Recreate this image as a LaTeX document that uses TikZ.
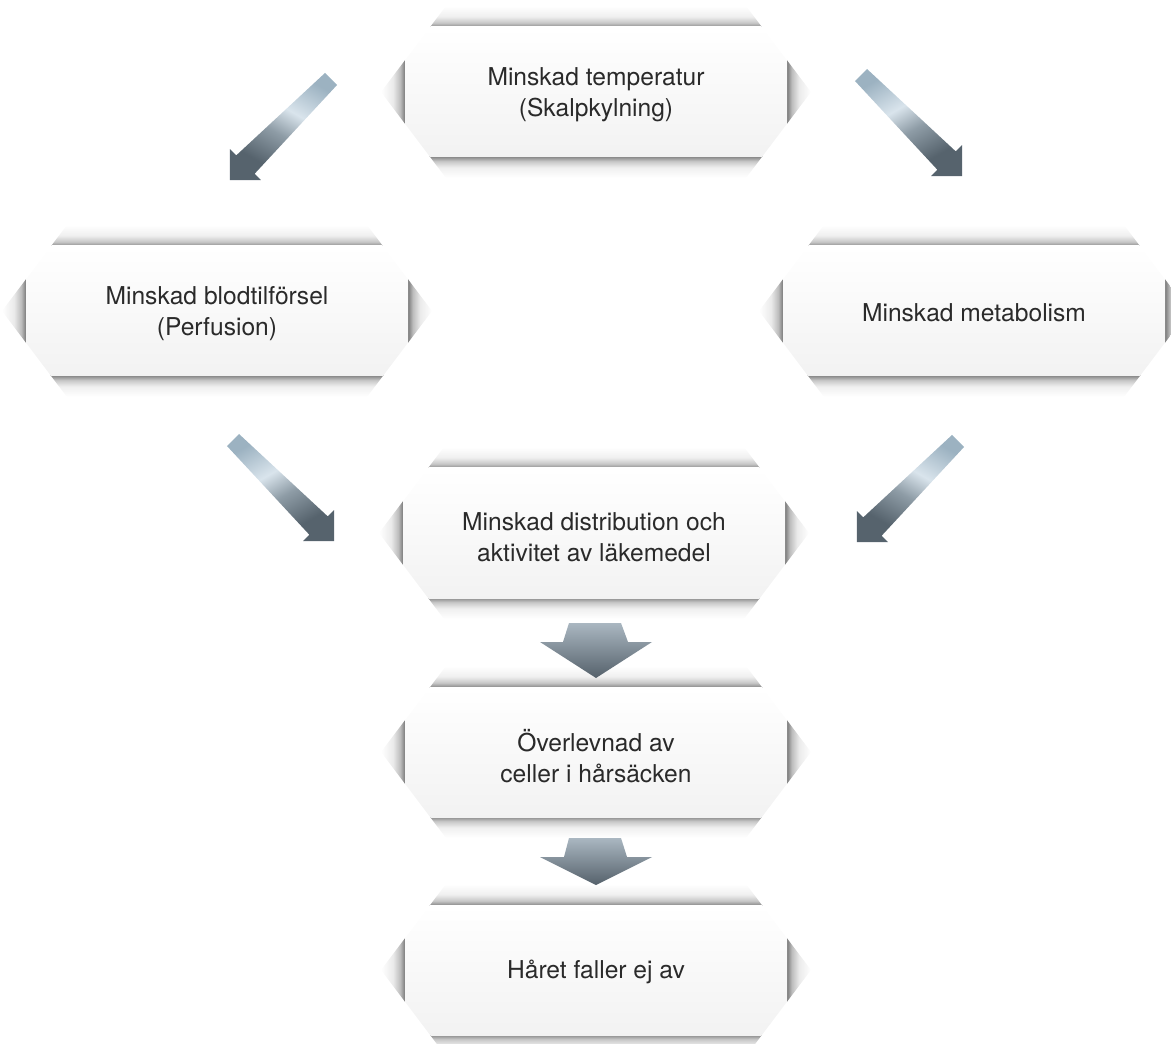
\documentclass[tikz,border=0pt]{standalone}
\usepackage{fontspec}
\setmainfont{TeX Gyre Heros}
\usepackage{tikz}

\definecolor{textgray}{HTML}{2A2A2A}
\definecolor{steeltail}{HTML}{9CB2C1}
\definecolor{steellight}{HTML}{D9E4EC}
\definecolor{steelmid}{HTML}{8E9CA6}
\definecolor{steeldark}{HTML}{56636D}
\definecolor{droptop}{HTML}{AAB7C1}
\definecolor{dropbottom}{HTML}{55616B}

\pgfdeclarehorizontalshading{steelshade}{100bp}{color(0bp)=(steeldark); color(30bp)=(steeldark); color(46bp)=(steelmid); color(58bp)=(steellight); color(75bp)=(steeltail); color(100bp)=(steeltail)}
\pgfdeclareverticalshading{bevelup}{100bp}{color(0bp)=(black!45); color(25bp)=(black!45); color(35bp)=(black!22); color(50bp)=(black!6); color(75bp)=(white); color(100bp)=(white)}
\pgfdeclareverticalshading{beveldown}{100bp}{color(0bp)=(white); color(25bp)=(white); color(50bp)=(black!6); color(65bp)=(black!22); color(75bp)=(black!45); color(100bp)=(black!45)}
\pgfdeclarehorizontalshading{bevelleft}{100bp}{color(0bp)=(white); color(25bp)=(white); color(50bp)=(black!8); color(65bp)=(black!26); color(75bp)=(black!52); color(100bp)=(black!52)}
\pgfdeclarehorizontalshading{bevelright}{100bp}{color(0bp)=(black!52); color(25bp)=(black!52); color(35bp)=(black!26); color(50bp)=(black!8); color(75bp)=(white); color(100bp)=(white)}

\tikzstyle{boxtext} = [align=center, text=textgray, font=\fontsize{14}{17.6}\selectfont]
\tikzstyle{face} = [top color=white, bottom color=black!5]
\tikzstyle{steelarrow} = [shading=steelshade]
\tikzstyle{droparrow} = [top color=droptop, bottom color=dropbottom]

% bevelled box round the origin of the current scope
\newcommand{\bevelbox}{%
  \begin{scope}
    \clip (-150,-86) -- (150,-86) -- (215,0) -- (150,86) -- (-150,86) -- (-215,0) -- cycle;
    \shade[shading=bevelup] (-215,-86) rectangle (215,-65);
    \shade[shading=beveldown] (-215,65) rectangle (215,86);
    \shade[shading=bevelleft] (-215,-65) rectangle (-191,65);
    \shade[shading=bevelright] (191,-65) rectangle (215,65);
    \shade[face] (-191,-65) rectangle (191,65);
  \end{scope}}

\newcommand{\slantarrow}[3]{%
  \shade[steelarrow, shading angle=#3, shift={#1}, rotate=#2]
    (0,-8.5) -- (121,-13) -- (121,-22) -- (143,0) -- (121,22) -- (121,13) -- (0,8.5) -- cycle;}

\begin{document}
\begin{tikzpicture}[x=0.02cm, y=-0.02cm]
\useasboundingbox (0,0) rectangle (1171,1044);

\begin{scope}[shift={(596,92)}]
\bevelbox
\node[boxtext] (temp) at (0,3) {Minskad temperatur\\(Skalpkylning)};
\end{scope}

\begin{scope}[shift={(217,311)}]
\bevelbox
\node[boxtext] (blod) at (0,3) {Minskad blodtilförsel\\(Perfusion)};
\end{scope}

\begin{scope}[shift={(974,311)}]
\bevelbox
\node[boxtext] (metab) at (0,2) {Minskad metabolism};
\end{scope}

\begin{scope}[shift={(594,533)}]
\bevelbox
\node[boxtext] (distr) at (0,4) {Minskad distribution och\\aktivitet av läkemedel};
\end{scope}

\begin{scope}[shift={(596,752)}]
\bevelbox
\node[boxtext] (cell) at (0,4) {Överlevnad av\\celler i hårsäcken};
\end{scope}

\begin{scope}[shift={(596,970)}]
\bevelbox
\node[boxtext] (har) at (0,2) {Håret faller ej av};
\end{scope}

\slantarrow{(331,79)}{225}{60}
\slantarrow{(861,75)}{-45}{120}
\slantarrow{(233,440)}{-45}{120}
\slantarrow{(958,441)}{225}{60}

\shade[droparrow] (569,623) -- (621,623) -- (628,642) -- (652,642) -- (596,678) -- (540,642) -- (563,642) -- cycle;
\shade[droparrow] (569,838) -- (621,838) -- (627,857) -- (652,857) -- (596,885) -- (540,857) -- (564,857) -- cycle;
\end{tikzpicture}
\end{document}
